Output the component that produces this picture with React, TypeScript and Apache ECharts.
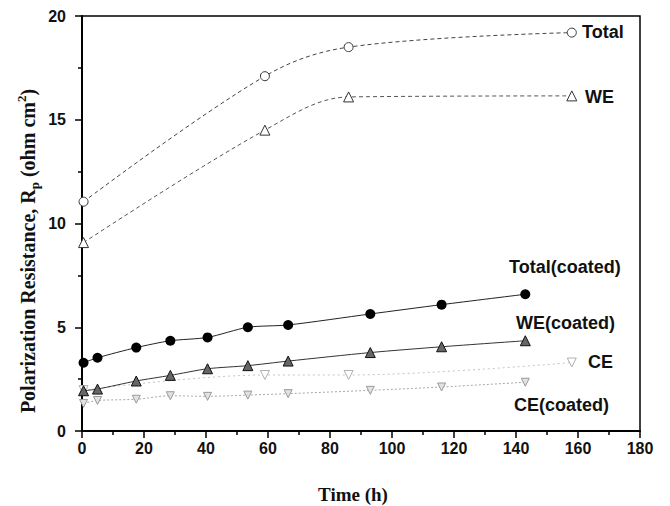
import React, { useEffect, useRef } from "react";
import * as echarts from "echarts";

const timeUncoated = [0.5, 59, 86, 158];
const totalValues = [11.05, 17.1, 18.5, 19.2];
const weValues = [9.08, 14.5, 16.1, 16.15];
const ceValues = [1.97, 2.7, 2.7, 3.3];

const timeCoated = [0.5, 5, 17.5, 28.5, 40.5, 53.5, 66.5, 93, 116, 143];
const totalCoatedValues = [3.29, 3.53, 4.02, 4.35, 4.51, 5.0, 5.11, 5.64, 6.09, 6.59];
const weCoatedValues = [1.94, 2.02, 2.41, 2.68, 3.0, 3.15, 3.37, 3.78, 4.06, 4.35];
const ceCoatedValues = [1.33, 1.47, 1.53, 1.7, 1.67, 1.73, 1.8, 1.96, 2.12, 2.35];

const seriesNames = ["Total", "WE", "CE", "Total(coated)", "WE(coated)", "CE(coated)"];

const xTitle = "Time (h)";

const pairs = (xs: number[], ys: number[]) => xs.map((x, i) => [x, ys[i]]);

export default function App() {
  const ref = useRef<HTMLDivElement>(null);
  useEffect(() => {
    if (!ref.current) return;
    const chart = echarts.init(ref.current, null, { renderer: "svg" });
    const sans = "'Liberation Sans', Arial, sans-serif";
    const serif = "'Liberation Serif', 'Times New Roman', serif";
    const annot = (text: string, x: number, y: number) => ({
      type: "text",
      x,
      y,
      style: {
        text,
        font: `bold 18px ${sans}`,
        fill: "#111",
        align: "left",
        verticalAlign: "middle",
      },
    });
    chart.setOption({
      animation: false,
      backgroundColor: "#fff",
      grid: {
        left: 82,
        right: 30,
        top: 16,
        bottom: 75,
        show: true,
        borderColor: "#000",
        borderWidth: 1.5,
      },
      xAxis: {
        type: "value",
        min: 0,
        max: 180,
        interval: 20,
        axisLine: { show: true, onZero: false, lineStyle: { color: "#000", width: 2 } },
        axisTick: { show: true, length: 7, lineStyle: { color: "#000", width: 1.5 } },
        minorTick: { show: true, splitNumber: 2, length: 4, lineStyle: { color: "#000", width: 1.5 } },
        splitLine: { show: false },
        axisLabel: { color: "#111", fontFamily: sans, fontWeight: "bold", fontSize: 16, margin: 9 },
      },
      yAxis: {
        type: "value",
        min: 0,
        max: 20,
        interval: 5,
        axisLine: { show: true, onZero: false, lineStyle: { color: "#000", width: 2 } },
        axisTick: { show: true, length: 7, lineStyle: { color: "#000", width: 1.5 } },
        minorTick: { show: true, splitNumber: 2, length: 4, lineStyle: { color: "#000", width: 1.5 } },
        splitLine: { show: false },
        axisLabel: { color: "#111", fontFamily: sans, fontWeight: "bold", fontSize: 16, margin: 16 },
      },
      graphic: [
        {
          type: "text",
          x: 353,
          y: 494,
          style: {
            text: xTitle,
            font: `bold 19px ${serif}`,
            fill: "#111",
            align: "center",
            verticalAlign: "middle",
          },
        },
        {
          type: "text",
          x: 28,
          y: 251,
          rotation: Math.PI / 2,
          style: {
            text: "Polarization Resistance, R{sub|p} (ohm cm{sup|2})",
            font: `bold 20px ${serif}`,
            fill: "#111",
            align: "center",
            verticalAlign: "middle",
            lineHeight: 26,
            rich: {
              sub: { font: `bold 13px ${serif}`, fill: "#111", verticalAlign: "bottom", lineHeight: 12 },
              sup: { font: `bold 13px ${serif}`, fill: "#111", verticalAlign: "top", lineHeight: 12 },
            },
          },
        },
        annot(seriesNames[0], 582, 32),
        annot(seriesNames[1], 585, 97),
        annot(seriesNames[3], 509, 267),
        annot(seriesNames[4], 516, 323),
        annot(seriesNames[2], 588, 362),
        annot(seriesNames[5], 514, 405),
      ],
      series: [
        {
          name: seriesNames[2],
          type: "line",
          data: pairs(timeUncoated, ceValues),
          smooth: 0.35,
          symbol: "triangle",
          symbolRotate: 180,
          symbolSize: 9,
          lineStyle: { color: "#c4c4c4", width: 1, type: [2, 3] },
          itemStyle: { color: "#fff", borderColor: "#b0b0b0", borderWidth: 1 },
          z: 1,
        },
        {
          name: seriesNames[5],
          type: "line",
          data: pairs(timeCoated, ceCoatedValues),
          smooth: 0.3,
          symbol: "triangle",
          symbolRotate: 180,
          symbolSize: 8,
          lineStyle: { color: "#a8a8a8", width: 1, type: [2, 2] },
          itemStyle: { color: "#e2e2e2", borderColor: "#9a9a9a", borderWidth: 1 },
          z: 1,
        },
        {
          name: seriesNames[0],
          type: "line",
          data: pairs(timeUncoated, totalValues),
          smooth: 0.35,
          symbol: "circle",
          symbolSize: 9,
          lineStyle: { color: "#444", width: 1, type: [4, 3] },
          itemStyle: { color: "#fff", borderColor: "#333", borderWidth: 1 },
          z: 3,
        },
        {
          name: seriesNames[1],
          type: "line",
          data: pairs(timeUncoated, weValues),
          smooth: 0.35,
          symbol: "triangle",
          symbolSize: 10,
          lineStyle: { color: "#555", width: 1, type: [4, 3] },
          itemStyle: { color: "#fff", borderColor: "#333", borderWidth: 1 },
          z: 3,
        },
        {
          name: seriesNames[3],
          type: "line",
          data: pairs(timeCoated, totalCoatedValues),
          smooth: 0.25,
          symbol: "circle",
          symbolSize: 10,
          lineStyle: { color: "#222", width: 1 },
          itemStyle: { color: "#000", borderColor: "#000", borderWidth: 0 },
          z: 4,
        },
        {
          name: seriesNames[4],
          type: "line",
          data: pairs(timeCoated, weCoatedValues),
          smooth: 0.25,
          symbol: "triangle",
          symbolSize: 10,
          lineStyle: { color: "#333", width: 1 },
          itemStyle: { color: "#666", borderColor: "#111", borderWidth: 1 },
          z: 4,
        },
      ],
    });
    return () => chart.dispose();
  }, []);
  return (
    <div
      ref={ref}
      style={{ position: "fixed", left: 0, top: 0, width: 670, height: 506, background: "#fff" }}
    />
  );
}
